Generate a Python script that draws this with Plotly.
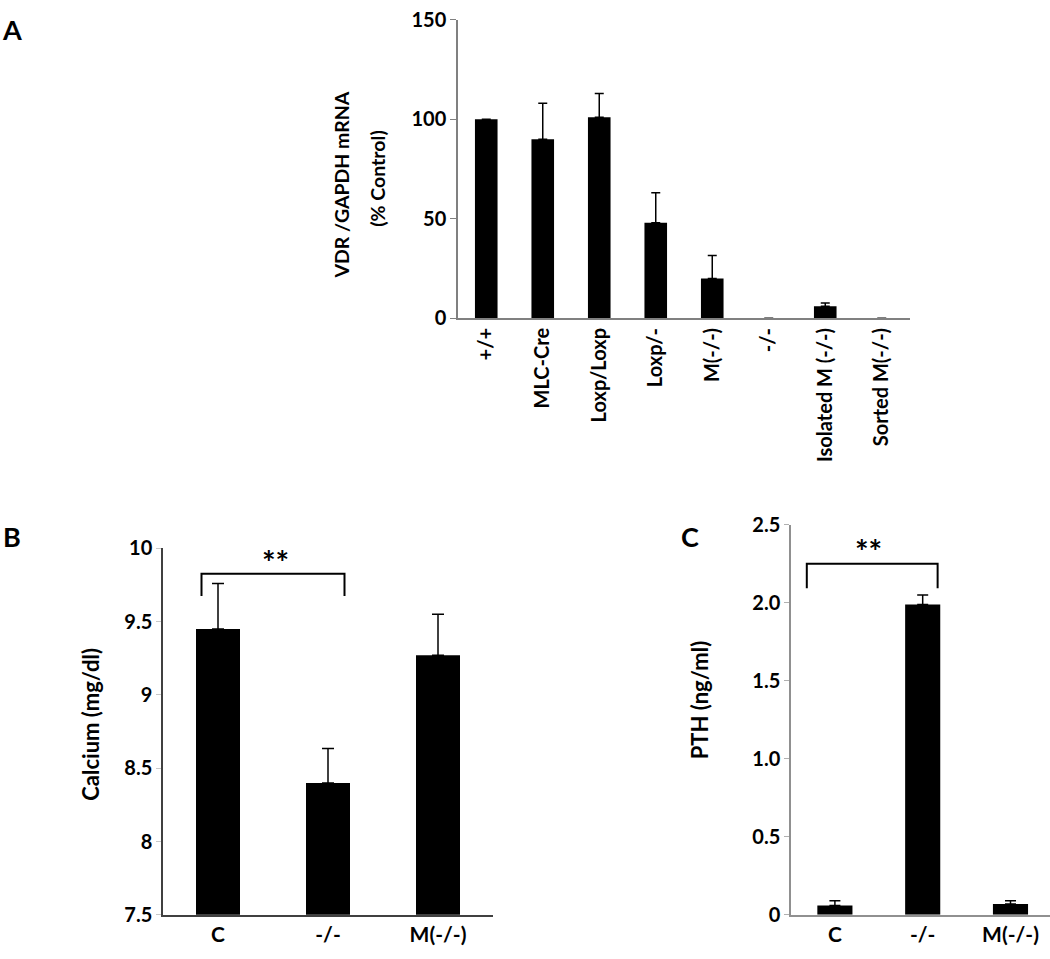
import plotly.graph_objects as go

# ---------------- data ----------------
a_categories = ["+/+", "MLC-Cre", "Loxp/Loxp", "Loxp/-", "M(-/-)", "-/-", "Isolated M (-/-)", "Sorted M(-/-)"]
a_values = [100, 90, 101, 48, 20, 0, 6, 0]
a_errors = [0, 18, 12, 15, 11.5, 0, 1.6, 0]

b_categories = ["C", "-/-", "M(-/-)"]
b_values = [9.45, 8.40, 9.27]
b_errors = [0.31, 0.235, 0.28]

c_categories = ["C", "-/-", "M(-/-)"]
c_values = [0.06, 1.99, 0.07]
c_errors = [0.03, 0.06, 0.02]

a_ticks = [0, 50, 100, 150]
b_ticks = [7.5, 8, 8.5, 9, 9.5, 10]
c_ticks = [0, 0.5, 1.0, 1.5, 2.0, 2.5]
c_ticktext = ["0", "0.5", "1.0", "1.5", "2.0", "2.5"]

W, H = 1050, 959
FONT = "Lato"


def px(x):
    return x / W


def py(y):
    return 1 - y / H


def up_only(errs):
    plus = [e if e > 0 else None for e in errs]
    minus = [0 if e > 0 else None for e in errs]
    return plus, minus


fig = go.Figure()

for cats, vals, errs, xa, ya, cap in [
    (a_categories, a_values, a_errors, "x", "y", 4.5),
    (b_categories, b_values, b_errors, "x2", "y2", 6),
    (c_categories, c_values, c_errors, "x3", "y3", 5.5),
]:
    plus, minus = up_only(errs)
    fig.add_trace(go.Bar(
        x=cats, y=vals, width=0.4, xaxis=xa, yaxis=ya,
        marker=dict(color="black", line=dict(width=0)),
        error_y=dict(type="data", symmetric=False, array=plus, arrayminus=minus,
                     color="black", thickness=1.5, width=cap),
        showlegend=False,
    ))

tickfont_a = dict(family=FONT, size=20, color="black", weight="bold")
tickfont_bc = dict(family=FONT, size=20, color="black", weight="bold")
xlabfont_bc = dict(family=FONT, size=21, color="black", weight="bold")

fig.update_layout(
    width=W, height=H,
    margin=dict(l=0, r=0, t=0, b=0),
    paper_bgcolor="white", plot_bgcolor="white",
    font=dict(family=FONT, color="black"),
    xaxis=dict(domain=[px(458), px(910)], anchor="y", type="category",
               range=[-0.5, 7.5], showline=True, linecolor="#808080", linewidth=1.5,
               ticks="", tickangle=-90, tickfont=dict(family=FONT, size=20, color="black", weight="bold"),
               showgrid=False, zeroline=False),
    yaxis=dict(domain=[py(313), py(7)], anchor="x", range=[0, 150],
               tickvals=a_ticks, showline=True, linecolor="#808080", linewidth=1.5,
               ticks="outside", ticklen=6, tickcolor="#808080", tickfont=tickfont_a,
               showgrid=False, zeroline=False),
    xaxis2=dict(domain=[px(163), px(493)], anchor="y2", type="category",
                range=[-0.5, 2.5], showline=True, linecolor="#404040", linewidth=1.5,
                ticks="", tickfont=xlabfont_bc, showgrid=False, zeroline=False),
    yaxis2=dict(domain=[py(925), py(549)], anchor="x2", range=[7.5, 10],
                tickvals=b_ticks, showline=True, linecolor="#404040", linewidth=1.5,
                ticks="outside", ticklen=5, tickcolor="#c8c8c8", tickfont=tickfont_bc,
                showgrid=False, zeroline=False),
    xaxis3=dict(domain=[px(791), 1.0], anchor="y3", type="category",
                range=[-0.5, 2.45], showline=True, linecolor="#909090", linewidth=1.5,
                ticks="", tickfont=xlabfont_bc, showgrid=False, zeroline=False),
    yaxis3=dict(domain=[py(925), py(525)], anchor="x3", range=[0, 2.5],
                tickvals=c_ticks, ticktext=c_ticktext, showline=True, linecolor="#909090",
                linewidth=1.5, ticks="outside", ticklen=5, tickcolor="#b0b0b0",
                tickfont=tickfont_bc, showgrid=False, zeroline=False),
    bargap=0.6,
)

# significance brackets
fig.add_shape(type="path", xref="x2", yref="y2",
              path="M -0.15,9.674 L -0.15,9.827 L 1.15,9.827 L 1.15,9.674",
              line=dict(color="black", width=2))
fig.add_shape(type="path", xref="x3", yref="y3",
              path="M -0.32,2.094 L -0.32,2.25 L 1.17,2.25 L 1.17,2.094",
              line=dict(color="black", width=2))

ann = []
star_font = dict(family=FONT, size=32, color="black", weight="bold")
ann.append(dict(xref="x2", yref="y2", x=0.52, y=9.90, text="**", showarrow=False,
                font=star_font, xanchor="center", yanchor="middle"))
ann.append(dict(xref="x3", yref="y3", x=0.38, y=2.33, text="**", showarrow=False,
                font=star_font, xanchor="center", yanchor="middle"))

# panel letters
letter_font = dict(family=FONT, size=27, color="black", weight="bold")
ann.append(dict(xref="paper", yref="paper", x=px(0), y=py(-2), text="A", showarrow=False,
                font=letter_font, xanchor="left", yanchor="top"))
ann.append(dict(xref="paper", yref="paper", x=px(1), y=py(518), text="B", showarrow=False,
                font=letter_font, xanchor="left", yanchor="top"))
ann.append(dict(xref="paper", yref="paper", x=px(679), y=py(518), text="C", showarrow=False,
                font=letter_font, xanchor="left", yanchor="top"))

# axis titles
title_font = dict(family=FONT, size=19.5, color="black", weight="bold")
ann.append(dict(xref="paper", yref="paper", x=px(342), y=py(177), text="VDR /GAPDH mRNA",
                showarrow=False, textangle=-90, font=title_font, xanchor="center", yanchor="middle"))
ann.append(dict(xref="paper", yref="paper", x=px(378), y=py(170), text="(% Control)",
                showarrow=False, textangle=-90, font=title_font, xanchor="center", yanchor="middle"))
title_font2 = dict(family=FONT, size=22, color="black", weight="bold")
ann.append(dict(xref="paper", yref="paper", x=px(91), y=py(730), text="Calcium (mg/dl)",
                showarrow=False, textangle=-90, font=title_font2, xanchor="center", yanchor="middle"))
ann.append(dict(xref="paper", yref="paper", x=px(699), y=py(705), text="PTH (ng/ml)",
                showarrow=False, textangle=-90, font=title_font2, xanchor="center", yanchor="middle"))

fig.update_layout(annotations=ann)

fig.write_html(
    "out.html",
    config={"displayModeBar": False},
    post_script="document.body.style.margin='0';document.body.style.overflow='hidden';",
)
